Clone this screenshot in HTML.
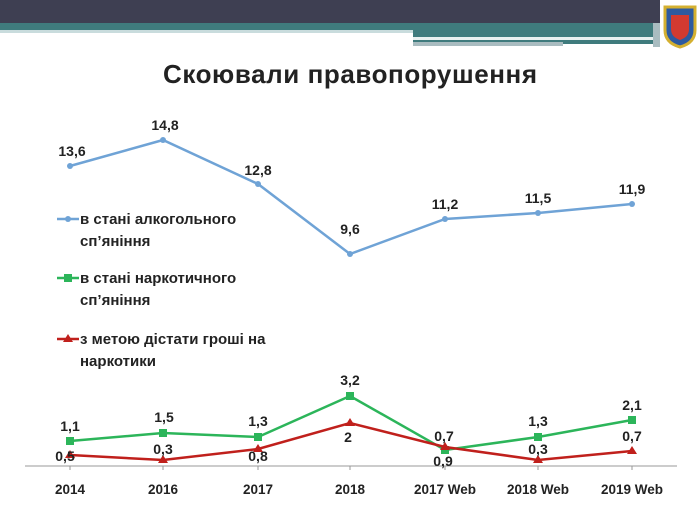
<!DOCTYPE html>
<html><head><meta charset="utf-8"><style>
body{margin:0;width:700px;height:525px;background:#fff;overflow:hidden;font-family:"Liberation Sans",sans-serif}
svg text{font-family:"Liberation Sans",sans-serif;font-weight:bold;fill:#222}
</style></head><body>
<svg width="700" height="525" viewBox="0 0 700 525">
<rect x="0" y="0" width="660" height="23" fill="#3e3f52"/>
<rect x="0" y="23" width="660" height="9" fill="#3f7b7d"/>
<rect x="0" y="30" width="413" height="3" fill="#c9dcdd"/>
<rect x="413" y="32" width="247" height="12" fill="#3f7b7d"/>
<rect x="413" y="37" width="240" height="3" fill="#e8f0f0"/>
<rect x="413" y="42" width="150" height="4" fill="#a9bcc0"/>
<rect x="653" y="23" width="7" height="24" fill="#a9bcc0"/>
<g transform="translate(680,25)">
<path d="M-15,-18 L15,-18 L15,5 Q15,18 0,22 Q-15,18 -15,5Z" fill="#2d5aa0" stroke="#d4b030" stroke-width="3"/>
<path d="M-9,-10 L9,-10 L9,4 Q9,12 0,15 Q-9,12 -9,4Z" fill="#d23a30"/>
</g>
<text x="350" y="83" text-anchor="middle" style="font-size:26px" fill="#111" textLength="374">Скоювали правопорушення</text>
<line x1="25" y1="466" x2="677" y2="466" stroke="#999" stroke-width="1"/>
<g stroke="#999"><line x1="70" y1="466" x2="70" y2="470"/><line x1="163" y1="466" x2="163" y2="470"/><line x1="258" y1="466" x2="258" y2="470"/><line x1="350" y1="466" x2="350" y2="470"/><line x1="445" y1="466" x2="445" y2="470"/><line x1="538" y1="466" x2="538" y2="470"/><line x1="632" y1="466" x2="632" y2="470"/></g>
<g style="font-size:13.5px" text-anchor="middle">
<text x="70" y="494">2014</text><text x="163" y="494">2016</text><text x="258" y="494">2017</text><text x="350" y="494">2018</text><text x="445" y="494">2017 Web</text><text x="538" y="494">2018 Web</text><text x="632" y="494">2019 Web</text>
</g>
<polyline points="70,166 163,140 258,184 350,254 445,219 538,213 632,204" fill="none" stroke="#6fa3d6" stroke-width="2.5"/>
<g fill="#6fa3d6"><circle cx="70" cy="166" r="3"/><circle cx="163" cy="140" r="3"/><circle cx="258" cy="184" r="3"/><circle cx="350" cy="254" r="3"/><circle cx="445" cy="219" r="3"/><circle cx="538" cy="213" r="3"/><circle cx="632" cy="204" r="3"/></g>
<polyline points="70,441 163,433 258,437 350,396 445,450 538,437 632,420" fill="none" stroke="#2cb55a" stroke-width="2.5"/>
<g fill="#2cb55a"><rect x="66" y="437" width="8" height="8"/><rect x="159" y="429" width="8" height="8"/><rect x="254" y="433" width="8" height="8"/><rect x="346" y="392" width="8" height="8"/><rect x="441" y="446" width="8" height="8"/><rect x="534" y="433" width="8" height="8"/><rect x="628" y="416" width="8" height="8"/></g>
<polyline points="70,455 163,460 258,449 350,423 445,447 538,460 632,451" fill="none" stroke="#c0201c" stroke-width="2.5"/>
<g fill="#c0201c"><path d="M70,450l5,8h-10z"/><path d="M163,455l5,8h-10z"/><path d="M258,444l5,8h-10z"/><path d="M350,418l5,8h-10z"/><path d="M445,442l5,8h-10z"/><path d="M538,455l5,8h-10z"/><path d="M632,446l5,8h-10z"/></g>
<g style="font-size:14px" text-anchor="middle">
<text x="72" y="156">13,6</text><text x="165" y="130">14,8</text><text x="258" y="175">12,8</text><text x="350" y="234">9,6</text><text x="445" y="209">11,2</text><text x="538" y="203">11,5</text><text x="632" y="194">11,9</text>
<text x="70" y="431">1,1</text><text x="164" y="422">1,5</text><text x="258" y="426">1,3</text><text x="350" y="385">3,2</text><text x="443" y="466">0,9</text><text x="538" y="426">1,3</text><text x="632" y="410">2,1</text>
<text x="65" y="461">0,5</text><text x="163" y="454">0,3</text><text x="258" y="461">0,8</text><text x="348" y="442">2</text><text x="444" y="441">0,7</text><text x="538" y="454">0,3</text><text x="632" y="441">0,7</text>
</g>
<g style="font-size:15px">
<line x1="57" y1="219" x2="79" y2="219" stroke="#6fa3d6" stroke-width="2.5"/><circle cx="68" cy="219" r="3" fill="#6fa3d6"/>
<text x="80" y="224">в стані алкогольного</text><text x="80" y="246">сп’яніння</text>
<line x1="57" y1="278" x2="79" y2="278" stroke="#2cb55a" stroke-width="2.5"/><rect x="64" y="274" width="8" height="8" fill="#2cb55a"/>
<text x="80" y="283">в стані наркотичного</text><text x="80" y="305">сп’яніння</text>
<line x1="57" y1="339" x2="79" y2="339" stroke="#c0201c" stroke-width="2.5"/><path d="M68,334l5,8h-10z" fill="#c0201c"/>
<text x="80" y="344">з метою дістати гроші на</text><text x="80" y="366">наркотики</text>
</g>
</svg>
</body></html>
